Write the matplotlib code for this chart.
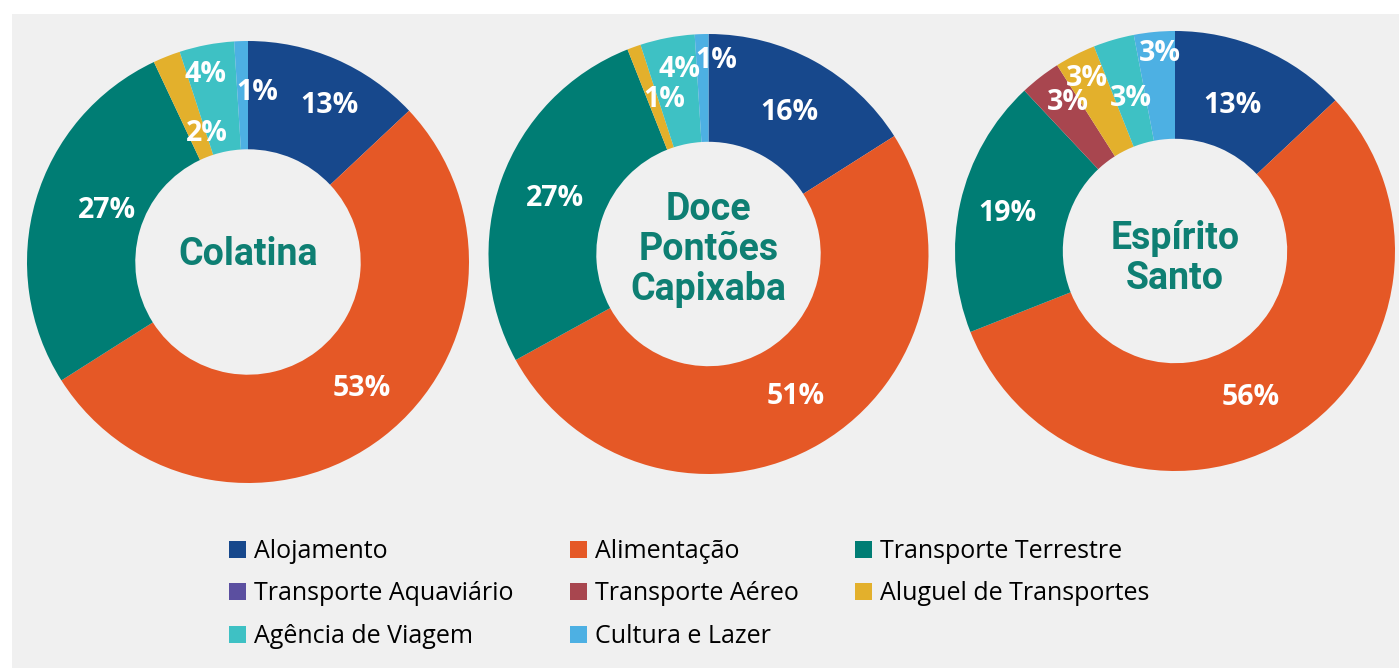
import numpy as np
import matplotlib
matplotlib.use('Agg')
import matplotlib.pyplot as plt
from matplotlib.patches import Patch, Rectangle

categories = [
    'Alojamento', 'Alimentação', 'Transporte Terrestre',
    'Transporte Aquaviário', 'Transporte Aéreo', 'Aluguel de Transportes',
    'Agência de Viagem', 'Cultura e Lazer',
]
colatina = [13, 53, 27, 0, 0, 2, 4, 1]
doce_pontoes = [16, 51, 27, 0, 0, 1, 4, 1]
espirito_santo = [13, 56, 19, 0, 3, 3, 3, 3]
titles = ['Colatina', 'Doce\nPontões\nCapixaba', 'Espírito\nSanto']

colors = ['#17488C', '#E55826', '#007D74', '#5B4FA0',
          '#A8464F', '#E3B02C', '#3EC1C4', '#4DB0E3']

# label placement: radius (fraction of outer radius) and angle nudge in degrees
label_r = [
    [0.80, 0.77, 0.68, 0, 0, 0.61, 0.87, 0.77],
    [0.74, 0.76, 0.74, 0, 0, 0.73, 0.85, 0.88],
    [0.71, 0.75, 0.78, 0, 0.83, 0.88, 0.72, 0.90],
]
label_da = [
    [-4, 4, -4, 0, 0, -4, 2, -5],
    [-1, 1, 0, 0, 0, -4, -2, -4],
    [2, -5, 0, 0, -2, 0, 0, -1],
]
title_dy = [0.035, 0.02, -0.035]

W, H = 1399, 668
fig = plt.figure(figsize=(W / 100, H / 100), dpi=100)
fig.patch.set_facecolor('white')
fig.patches.append(Rectangle((12 / W, 0), 1, 1 - 14 / H, transform=fig.transFigure,
                             facecolor='#F0F0F0', edgecolor='none', zorder=-1))

# (centre x, centre y, radius) in pixels
boxes = [(248, 262, 221), (708.5, 254, 220), (1175, 251, 220)]
series = [colatina, doce_pontoes, espirito_santo]

for k, ((cx, cy, r), vals, title) in enumerate(zip(boxes, series, titles)):
    ax = fig.add_axes([(cx - r) / W, (H - cy - r) / H, 2 * r / W, 2 * r / H])
    wedges, _ = ax.pie(vals, colors=colors, startangle=90, counterclock=False,
                       radius=1, wedgeprops=dict(width=0.49, linewidth=0))
    ax.set_xlim(-1, 1)
    ax.set_ylim(-1, 1)
    ax.set_aspect('equal')
    ax.axis('off')
    total = sum(vals)
    cum = 0
    for v, rf, da in zip(vals, label_r[k], label_da[k]):
        if v > 0:
            mid = cum + v / 2
            ang = np.deg2rad(90 - 360 * mid / total + da)
            ax.text(rf * np.cos(ang), rf * np.sin(ang), f'{v}%', color='white',
                    fontsize=20.5, fontweight='bold', family='Open Sans',
                    ha='center', va='center')
        cum += v
    ax.text(0, title_dy[k], title, color='#0E7F73', fontsize=27, fontweight='bold',
            family='Roboto', ha='center', va='center', linespacing=1.1)

handles = [Patch(facecolor=c, edgecolor='none') for c in colors]
order = [0, 3, 6, 1, 4, 7, 2, 5]
leg = fig.legend([handles[i] for i in order], [categories[i] for i in order],
                 ncol=3, loc='upper left', bbox_to_anchor=(229 / W, 1 - 539 / H),
                 frameon=False, prop={'family': 'Open Sans', 'size': 18},
                 handlelength=0.68, handleheight=0.68, handletextpad=0.32,
                 columnspacing=2.25, labelspacing=0.7, borderpad=0, borderaxespad=0)

fig.savefig('out.png', dpi=100, facecolor=fig.get_facecolor())
